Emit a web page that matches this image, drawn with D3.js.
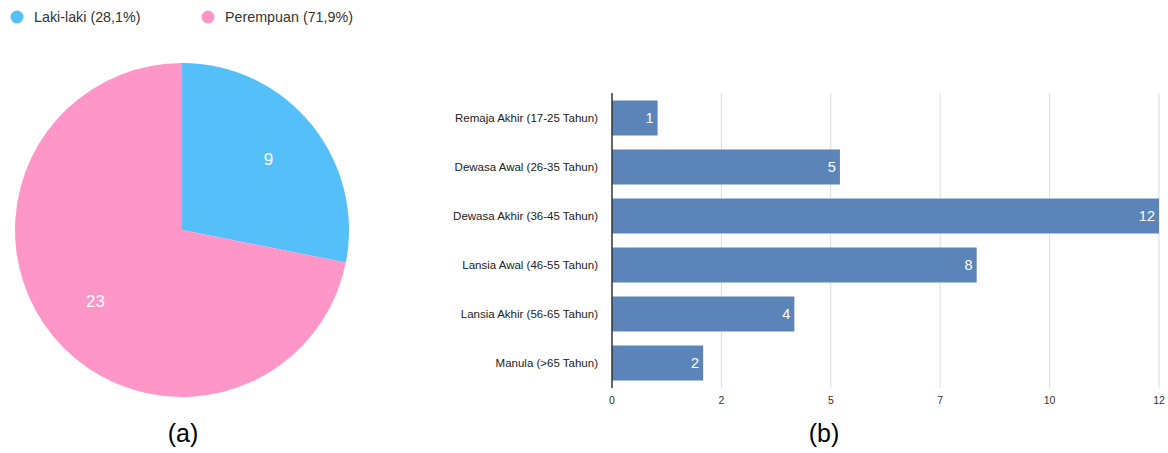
<!DOCTYPE html>
<html><head><meta charset="utf-8">
<script src="https://cdn.jsdelivr.net/npm/d3@7"></script>
<style>body{margin:0;background:#fff;} svg{display:block;font-family:"Liberation Sans",Arial,sans-serif;}</style>
</head><body>
<svg id="c" width="1168" height="453"></svg>
<script>
const genderLabels = ["Laki-laki (28,1%)", "Perempuan (71,9%)"];
const genderValues = [9, 23];
const genderColors = ["#55BFFA", "#FF96C8"];
const ageCategories = ["Remaja Akhir (17-25 Tahun)","Dewasa Awal (26-35 Tahun)","Dewasa Akhir (36-45 Tahun)","Lansia Awal (46-55 Tahun)","Lansia Akhir (56-65 Tahun)","Manula (>65 Tahun)"];
const ageValues = [1, 5, 12, 8, 4, 2];
const xTickValues = [0, 2.4, 4.8, 7.2, 9.6, 12];
const xTickLabels = ["0", "2", "5", "7", "10", "12"];

const svg = d3.select("#c");

// Legend
const leg = svg.append("g");
const legX = [17, 208];
genderLabels.forEach((t, i) => {
  leg.append("circle").attr("cx", legX[i]).attr("cy", 17).attr("r", 6.5).attr("fill", genderColors[i]);
  leg.append("text").attr("x", legX[i] + 17).attr("y", 22).attr("font-size", 14.3).attr("fill", "#333").text(t);
});

// Pie
const cx = 182, cy = 230, r = 167;
const pie = d3.pie().sort(null).value(d => d)(genderValues);
const arc = d3.arc().innerRadius(0).outerRadius(r);
const labelArc = d3.arc().innerRadius(r * 0.67).outerRadius(r * 0.67);
const pg = svg.append("g").attr("transform", `translate(${cx},${cy})`);
pg.selectAll("path").data(pie).join("path").attr("d", arc).attr("fill", (d, i) => genderColors[i]);
pg.selectAll("text").data(pie).join("text")
  .attr("transform", d => `translate(${labelArc.centroid(d)})`)
  .attr("text-anchor", "middle").attr("dy", "0.35em")
  .attr("font-size", 17).attr("fill", "#fff").text(d => d.data);

// Bar chart
const bx0 = 612, bx1 = 1159, bTop = 93, bBottom = 388;
const x = d3.scaleLinear().domain([0, 12]).range([bx0, bx1]);
const y = d3.scaleBand().domain(ageCategories).range([bTop, bBottom]).paddingInner(0.2857).paddingOuter(0.153);
const bg = svg.append("g");
bg.selectAll("line.grid").data(xTickValues.slice(1)).join("line").attr("class", "grid")
  .attr("x1", d => x(d)).attr("x2", d => x(d)).attr("y1", bTop).attr("y2", bBottom)
  .attr("stroke", "#dcdcdc").attr("stroke-width", 1);
bg.selectAll("rect").data(ageValues).join("rect")
  .attr("x", x(0)).attr("y", (d, i) => y(ageCategories[i]))
  .attr("width", d => x(d) - x(0)).attr("height", y.bandwidth())
  .attr("fill", "#5B84B8");
bg.selectAll("text.val").data(ageValues).join("text").attr("class", "val")
  .attr("x", d => x(d) - 4).attr("y", (d, i) => y(ageCategories[i]) + y.bandwidth() / 2)
  .attr("dy", "0.35em").attr("text-anchor", "end").attr("font-size", 14.5).attr("fill", "#fff").text(d => d);
bg.selectAll("text.cat").data(ageCategories).join("text").attr("class", "cat")
  .attr("x", 598).attr("y", d => y(d) + y.bandwidth() / 2).attr("dy", "0.35em")
  .attr("text-anchor", "end").attr("font-size", 11.5).attr("fill", "#222").text(d => d);
bg.append("line").attr("x1", bx0).attr("x2", bx0).attr("y1", bTop).attr("y2", bBottom)
  .attr("stroke", "#333").attr("stroke-width", 1.5);
bg.selectAll("text.tick").data(xTickValues).join("text").attr("class", "tick")
  .attr("x", d => x(d)).attr("y", 404).attr("text-anchor", "middle")
  .attr("font-size", 10.5).attr("fill", "#333").text((d, i) => xTickLabels[i]);

// Captions
svg.append("text").attr("x", 183).attr("y", 442).attr("text-anchor", "middle").attr("font-size", 25).attr("fill", "#000").text("(a)");
svg.append("text").attr("x", 824).attr("y", 442).attr("text-anchor", "middle").attr("font-size", 25).attr("fill", "#000").text("(b)");
</script>
</body></html>
